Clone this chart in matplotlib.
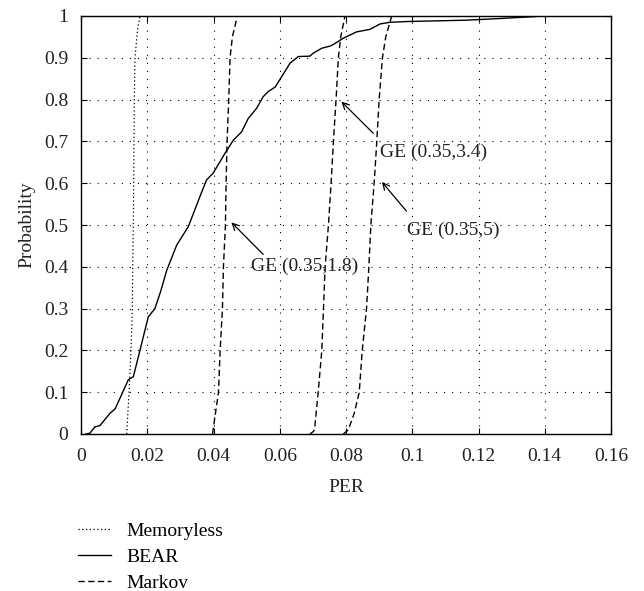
import matplotlib
matplotlib.use("Agg")
import matplotlib.pyplot as plt
from matplotlib.lines import Line2D

plt.rcParams['font.family'] = ['Liberation Serif', 'DejaVu Serif']
plt.rcParams['lines.scale_dashes'] = False

# Memoryless (dotted)
mem_x = [0.0138, 0.0145, 0.0151, 0.0155, 0.0156, 0.0158, 0.0160, 0.0161, 0.0163, 0.0171, 0.0178]
mem_y = [0.0, 0.1, 0.2, 0.3, 0.4, 0.5, 0.7, 0.8, 0.9, 0.97, 1.0]

# BEAR (solid)
bear_x = [0.0015, 0.0027, 0.0042, 0.0057, 0.0088, 0.0103, 0.0143, 0.0158, 0.0178, 0.0203,
          0.0223, 0.0240, 0.0259, 0.0289, 0.0324, 0.0359, 0.0379, 0.0399, 0.0435, 0.0460,
          0.0485, 0.0505, 0.0530, 0.0550, 0.0565, 0.0586, 0.0606, 0.0631, 0.0656, 0.0691,
          0.0701, 0.0727, 0.0752, 0.0762, 0.0792, 0.0832, 0.0872, 0.0903, 0.0933, 0.0993,
          0.1164, 0.1265, 0.1401]
bear_y = [0.0, 0.002, 0.017, 0.020, 0.050, 0.060, 0.130, 0.137, 0.200, 0.280,
          0.300, 0.340, 0.392, 0.452, 0.496, 0.568, 0.608, 0.624, 0.672, 0.703,
          0.723, 0.755, 0.779, 0.807, 0.819, 0.830, 0.855, 0.887, 0.903, 0.904,
          0.911, 0.923, 0.928, 0.932, 0.947, 0.962, 0.968, 0.981, 0.985, 0.987,
          0.990, 0.994, 1.0]

# Markov GE curves (dashed)
ge18_x = [0.0397, 0.0415, 0.0420, 0.0427, 0.0430, 0.0436, 0.0438, 0.0441, 0.0446, 0.0450, 0.0457, 0.0466, 0.0472]
ge18_y = [0.0, 0.1, 0.2, 0.3, 0.4, 0.5, 0.6, 0.7, 0.8, 0.9, 0.95, 0.98, 1.0]

ge34_x = [0.0691, 0.0700, 0.0705, 0.0716, 0.0727, 0.0732, 0.0737, 0.0747, 0.0755, 0.0762, 0.0770, 0.0777, 0.0784, 0.0797, 0.0805]
ge34_y = [0.0, 0.005, 0.01, 0.1, 0.2, 0.3, 0.4, 0.5, 0.6, 0.7, 0.8, 0.9, 0.95, 1.0, 1.0]

ge5_x = [0.0792, 0.0807, 0.0825, 0.0840, 0.0849, 0.0862, 0.0869, 0.0875, 0.0885, 0.0893, 0.0900, 0.0910, 0.0920, 0.0938, 0.0950]
ge5_y = [0.0, 0.01, 0.05, 0.1, 0.2, 0.3, 0.4, 0.5, 0.6, 0.7, 0.8, 0.9, 0.95, 1.0, 1.0]

x_ticks = [0, 0.02, 0.04, 0.06, 0.08, 0.1, 0.12, 0.14, 0.16]
x_labels = ['0', '0.02', '0.04', '0.06', '0.08', '0.1', '0.12', '0.14', '0.16']
y_ticks = [0, 0.1, 0.2, 0.3, 0.4, 0.5, 0.6, 0.7, 0.8, 0.9, 1.0]
y_labels = ['0', '0.1', '0.2', '0.3', '0.4', '0.5', '0.6', '0.7', '0.8', '0.9', '1']

annotations = [
    ("GE (0.35,1.8)", (0.0448, 0.511), (0.0556, 0.425), (0.0512, 0.40)),
    ("GE (0.35,3.4)", (0.0780, 0.800), (0.0888, 0.715), (0.0903, 0.675)),
    ("GE (0.35,5)", (0.0903, 0.608), (0.0988, 0.528), (0.0985, 0.488)),
]

fig = plt.figure(figsize=(6.44, 5.91), dpi=100)
ax = fig.add_axes([81/644, 1-434/591, 530/644, 418/591])

FS = 14
TXT = '#222222'
dash = (0, (4.5, 2.5))
dot = (0, (0.9, 1.8))
ax.plot(mem_x, mem_y, color='black', lw=0.9, linestyle=dot)
ax.plot(bear_x, bear_y, color='black', lw=1.0, linestyle='-')
for xs, ys in [(ge18_x, ge18_y), (ge34_x, ge34_y), (ge5_x, ge5_y)]:
    ax.plot(xs, ys, color='black', lw=1.0, linestyle=dash)

ax.set_xlim(0, 0.16)
ax.set_ylim(0, 1)
ax.set_xticks(x_ticks)
ax.set_xticklabels(x_labels)
ax.set_yticks(y_ticks)
ax.set_yticklabels(y_labels)
ax.tick_params(direction='in', top=True, right=True, labelsize=FS, length=4, width=0.8,
               colors='black', labelcolor=TXT)
ax.tick_params(axis='x', pad=10)
ax.tick_params(axis='y', pad=9)
ax.grid(True, color='black', linestyle=(0, (0.8, 5)), linewidth=0.8)
for s in ax.spines.values():
    s.set_linewidth(1.0)
ax.set_xlabel('PER', fontsize=FS, labelpad=10, color=TXT)
ax.set_ylabel('Probability', fontsize=FS, labelpad=6, color=TXT)

for text, head, tail, tpos in annotations:
    ax.annotate('', xy=head, xytext=tail,
                arrowprops=dict(arrowstyle='->', color='black', lw=0.9, mutation_scale=12))
    ax.text(tpos[0], tpos[1], text, fontsize=FS, ha='left', va='center', color=TXT)

handles = [Line2D([], [], color='black', lw=0.9, linestyle=dot),
           Line2D([], [], color='black', lw=1.0, linestyle='-'),
           Line2D([], [], color='black', lw=1.0, linestyle=dash)]
fig.legend(handles, ['Memoryless', 'BEAR', 'Markov'], loc='upper left',
           bbox_to_anchor=(64/644, 1-509/591), frameon=False, fontsize=FS,
           handlelength=1.7, handletextpad=0.8, labelspacing=0.42, borderpad=0.2)

fig.savefig('out.png', dpi=100)
